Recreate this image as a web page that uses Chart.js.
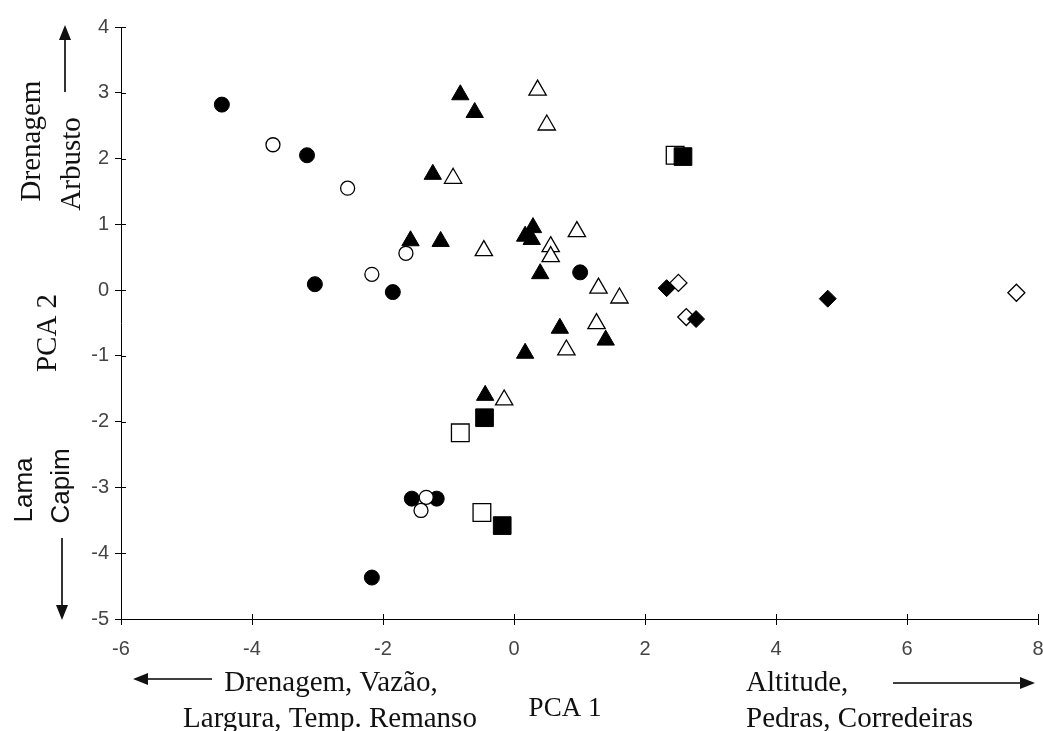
<!DOCTYPE html>
<html>
<head>
<meta charset="utf-8">
<script src="https://cdn.jsdelivr.net/npm/chart.js@4.4.0/dist/chart.umd.min.js"></script>
<style>
  html, body { margin: 0; padding: 0; background: #fff; overflow: hidden; }
  canvas { display: block; }
</style>
</head>
<body>
<canvas id="myChart" width="1043" height="731"></canvas>
<script>
// pontos (PCA 1, PCA 2)
const xTicks = [-6, -4, -2, 0, 2, 4, 6, 8];
const yTicks = [-5, -4, -3, -2, -1, 0, 1, 2, 3, 4];

const circFilled = [[-4.46, 2.82], [-3.16, 2.05], [-3.04, 0.09], [-1.85, -0.03], [1.01, 0.27], [-1.56, -3.17], [-1.18, -3.17], [-2.17, -4.37]];
const circOpen = [[-3.68, 2.21], [-2.54, 1.55], [-2.17, 0.24], [-1.65, 0.56], [-1.34, -3.15], [-1.42, -3.35]];
const triFilled = [[-0.82, 2.97], [-0.60, 2.70], [-1.24, 1.76], [-1.58, 0.75], [-1.12, 0.74], [0.29, 0.95], [0.17, 0.82], [0.27, 0.77], [0.40, 0.25], [0.70, -0.58], [1.40, -0.76], [0.17, -0.96], [-0.44, -1.60]];
const triOpen = [[0.36, 3.04], [0.50, 2.51], [-0.93, 1.70], [-0.46, 0.60], [0.96, 0.89], [0.56, 0.66], [0.56, 0.51], [1.29, 0.03], [1.61, -0.12], [1.26, -0.51], [0.80, -0.91], [-0.15, -1.67]];
const sqFilled = [[-0.45, -1.94], [-0.18, -3.58], [2.58, 2.03]];
const sqOpen = [[-0.82, -2.17], [-0.49, -3.38], [2.46, 2.05]];
const diaFilled = [[2.33, 0.03], [2.78, -0.44], [4.79, -0.13]];
const diaOpen = [[2.51, 0.11], [2.63, -0.41], [7.67, -0.04]];

const pts = a => a.map(p => ({ x: p[0], y: p[1] }));

function serie(data, style, r, filled) {
	return {
		data: pts(data),
		pointStyle: style,
		pointRadius: r,
		pointHoverRadius: r,
		pointBackgroundColor: filled ? "#000" : "#fff",
		pointBorderColor: "#000",
		pointBorderWidth: filled ? 1 : 1.3,
		showLine: false,
	};
}

// desenha setas, textos dos eixos e marcas internas dos ticks
const extras = {
	id: "extras",
	afterDraw(chart) {
		const ctx = chart.ctx;
		const xs = chart.scales.x, ys = chart.scales.y;
		ctx.save();
		ctx.strokeStyle = "#000";
		ctx.lineWidth = 1;
		ctx.beginPath();
		xTicks.forEach(v => {
			const px = Math.round(xs.getPixelForValue(v)) + 0.5;
			ctx.moveTo(px, ys.bottom);
			ctx.lineTo(px, ys.bottom - 5);
		});
		yTicks.forEach(v => {
			const py = Math.round(ys.getPixelForValue(v)) + 0.5;
			ctx.moveTo(xs.left, py);
			ctx.lineTo(xs.left + 5, py);
		});
		ctx.stroke();

		const arrow = (x1, y1, x2, y2) => {
			const ang = Math.atan2(y2 - y1, x2 - x1);
			ctx.lineWidth = 1.6;
			ctx.beginPath();
			ctx.moveTo(x1, y1);
			ctx.lineTo(x2 - 10 * Math.cos(ang), y2 - 10 * Math.sin(ang));
			ctx.stroke();
			ctx.beginPath();
			ctx.moveTo(x2, y2);
			ctx.lineTo(x2 - 15 * Math.cos(ang) + 6 * Math.sin(ang), y2 - 15 * Math.sin(ang) - 6 * Math.cos(ang));
			ctx.lineTo(x2 - 15 * Math.cos(ang) - 6 * Math.sin(ang), y2 - 15 * Math.sin(ang) + 6 * Math.cos(ang));
			ctx.closePath();
			ctx.fill();
		};
		ctx.fillStyle = "#111";
		arrow(212, 679, 133, 679);
		arrow(893, 683, 1035, 683);
		arrow(65, 92, 65, 25);
		arrow(62, 538, 62, 620);

		const serif = '29px "Liberation Serif", "Times New Roman", serif';
		ctx.font = serif;
		ctx.textBaseline = "alphabetic";
		ctx.textAlign = "center";
		ctx.fillText("Drenagem, Vazão,", 331, 691);
		ctx.fillText("Largura, Temp. Remanso", 330, 727);
		ctx.font = '27px "Liberation Serif", "Times New Roman", serif';
		ctx.fillText("PCA 1", 565, 716);
		ctx.font = serif;
		ctx.textAlign = "left";
		ctx.fillText("Altitude,", 746, 691);
		ctx.fillText("Pedras, Corredeiras", 746, 727);

		const vert = (txt, x, y, font) => {
			ctx.save();
			ctx.translate(x, y);
			ctx.rotate(-Math.PI / 2);
			ctx.font = font;
			ctx.textAlign = "center";
			ctx.textBaseline = "middle";
			ctx.fillText(txt, 0, 0);
			ctx.restore();
		};
		vert("PCA 2", 48, 333, serif);
		vert("Drenagem", 32, 141, serif);
		vert("Arbusto", 72, 164, serif);
		const sans = '26px "Liberation Sans", Arial, sans-serif';
		vert("Lama", 25, 490, sans);
		vert("Capim", 62, 486, sans);
		ctx.restore();
	},
};

const ctx = document.getElementById("myChart");
const myChart = new Chart(ctx, {
	type: "scatter",
	data: {
		datasets: [
			serie(sqFilled, "rect", 12.5, true),
			serie(diaFilled, "rectRot", 8.5, true),
			serie(circOpen, "circle", 7, false),
			serie(circFilled, "circle", 7.5, true),
			serie(triFilled, "triangle", 10, true),
			serie(triOpen, "triangle", 10, false),
			serie(sqOpen, "rect", 12.5, false),
			serie(diaOpen, "rectRot", 8.5, false),
		],
	},
	options: {
		responsive: false,
		animation: false,
		layout: { autoPadding: false, padding: { top: 27, right: 5, left: 0, bottom: 0 } },
		plugins: {
			legend: { display: false },
			tooltip: { enabled: false },
		},
		scales: {
			x: {
				type: "linear",
				min: -6,
				max: 8,
				afterBuildTicks: s => { s.ticks = xTicks.map(v => ({ value: v })); },
				afterFit: s => { s.height = 112; s.paddingLeft = 0; s.paddingRight = 0; },
				ticks: {
					padding: 12,
					maxRotation: 0,
					autoSkip: false,
					color: "#444",
					font: { family: '"Liberation Sans", Arial, sans-serif', size: 20 },
				},
				grid: { drawOnChartArea: false, tickLength: 6, color: "#000" },
				border: { color: "#000", width: 1 },
			},
			y: {
				type: "linear",
				min: -5,
				max: 4,
				afterBuildTicks: s => { s.ticks = yTicks.map(v => ({ value: v })); },
				afterFit: s => { s.width = 121; s.paddingTop = 0; s.paddingBottom = 0; },
				ticks: {
					padding: 6,
					autoSkip: false,
					color: "#444",
					font: { family: '"Liberation Sans", Arial, sans-serif', size: 20 },
				},
				grid: { drawOnChartArea: false, tickLength: 6, color: "#000" },
				border: { color: "#000", width: 1 },
			},
		},
	},
	plugins: [extras],
});
</script>
</body>
</html>
